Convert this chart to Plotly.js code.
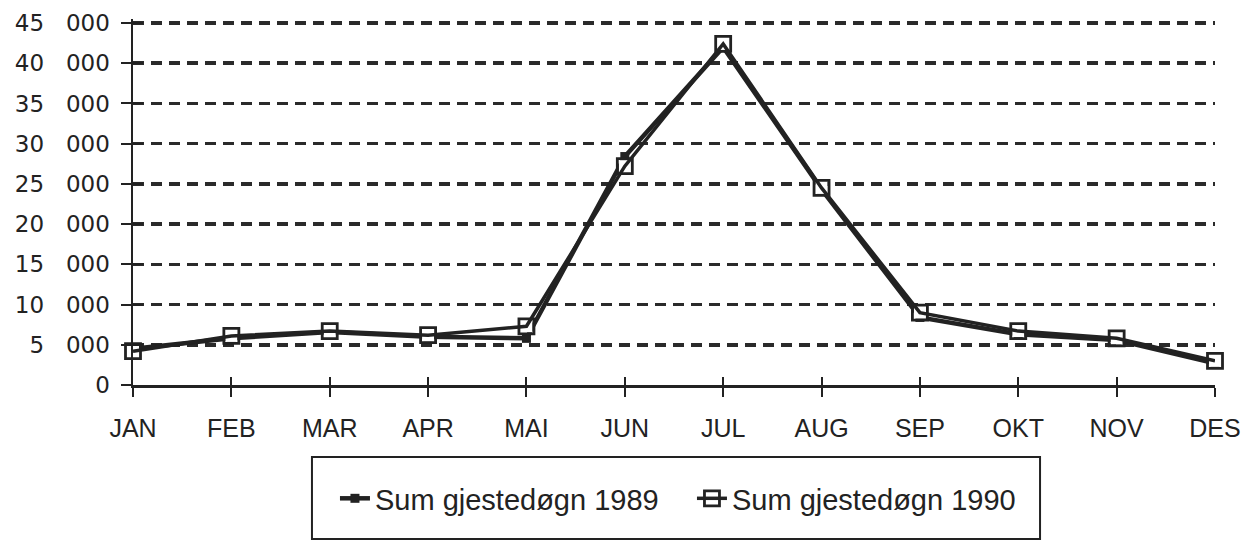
<!DOCTYPE html>
<html>
<head>
<meta charset="utf-8">
<script src="https://cdn.plot.ly/plotly-3.0.1.min.js"></script>
<style>
  html, body { margin: 0; padding: 0; background: #fff; }
  #chart { width: 1246px; height: 545px; }
</style>
</head>
<body>
<div id="chart"></div>
<script>
// ---- data ----
const months = ["JAN", "FEB", "MAR", "APR", "MAI", "JUN", "JUL", "AUG", "SEP", "OKT", "NOV", "DES"];
const gjestedogn1989 = [4500, 5800, 6600, 6000, 5800, 28400, 42000, 24300, 8400, 6300, 5600, 2700];
const gjestedogn1990 = [4200, 6100, 6700, 6200, 7300, 27200, 42400, 24500, 9000, 6700, 5800, 3000];
const yTickVals = [0, 5000, 10000, 15000, 20000, 25000, 30000, 35000, 40000, 45000];
const yTickText = ["0", "5\u00a0\u00a0\u00a0000", "10\u00a0\u00a0\u00a0000", "15\u00a0\u00a0\u00a0000", "20\u00a0\u00a0\u00a0000",
                   "25\u00a0\u00a0\u00a0000", "30\u00a0\u00a0\u00a0000", "35\u00a0\u00a0\u00a0000", "40\u00a0\u00a0\u00a0000", "45\u00a0\u00a0\u00a0000"];
const seriesNames = ["Sum gjestedøgn 1989", "Sum gjestedøgn 1990"];

const ink = "#222";

const traces = [
  {
    x: months, y: gjestedogn1989, name: seriesNames[0], type: "scatter", mode: "lines+markers",
    cliponaxis: false,
    line: { color: ink, width: 4.5 },
    marker: { symbol: "square", size: 9, color: ink, line: { color: ink, width: 0 } }
  },
  {
    // white fill behind the open squares
    x: months, y: gjestedogn1990, showlegend: false, hoverinfo: "skip", type: "scatter", mode: "markers",
    cliponaxis: false,
    marker: { symbol: "square", size: 12, color: "#fff" }
  },
  {
    x: months, y: gjestedogn1990, name: seriesNames[1], type: "scatter", mode: "lines+markers",
    cliponaxis: false,
    line: { color: ink, width: 3.5 },
    marker: { symbol: "square-open", size: 15, color: ink, line: { color: ink, width: 2.8 } }
  }
];

const yMax = 45500;

const layout = {
  width: 1246, height: 545,
  margin: { l: 133, r: 31, t: 19, b: 160 },
  paper_bgcolor: "#fff", plot_bgcolor: "#fff",
  showlegend: true,
  font: { family: "Liberation Sans, Arial, sans-serif", color: ink },
  xaxis: {
    type: "category", range: [0, 11], fixedrange: true,
    showgrid: false, zeroline: false,
    showline: true, linecolor: ink, linewidth: 2.5,
    ticks: "outside", ticklen: 9, tickwidth: 2, tickcolor: ink,
    tickfont: { family: "Liberation Sans, Arial, sans-serif", size: 25, color: ink },
    ticklabelstandoff: 10
  },
  yaxis: {
    range: [0, yMax], fixedrange: true,
    tickvals: yTickVals, ticktext: yTickText,
    showgrid: true, gridcolor: "#2a2a2a", gridwidth: 3.5, griddash: "11px,7px",
    zeroline: false,
    showline: true, linecolor: ink, linewidth: 2.5,
    ticks: "outside", ticklen: 10, tickwidth: 2, tickcolor: ink,
    tickfont: { family: "DejaVu Sans, sans-serif", size: 23, color: ink },
    ticklabelstandoff: 6
  },
  xaxis2: {
    overlaying: "x", range: [0, 11], tickvals: [0,1,2,3,4,5,6,7,8,9,10,11],
    ticks: "inside", ticklen: 8, tickwidth: 2, tickcolor: ink,
    showticklabels: false, showgrid: false, zeroline: false, showline: false, fixedrange: true
  },
  yaxis2: {
    overlaying: "y", range: [0, yMax], tickvals: yTickVals,
    ticks: "inside", ticklen: 10, tickwidth: 2, tickcolor: ink,
    showticklabels: false, showgrid: false, zeroline: false, showline: false, fixedrange: true
  },
  legend: {
    orientation: "h", x: 0.5166, xanchor: "center", y: -0.310, yanchor: "middle",
    font: { family: "Liberation Sans, Arial, sans-serif", size: 29, color: ink },
    bgcolor: "rgba(0,0,0,0)", borderwidth: 0,
    entrywidth: 312, entrywidthmode: "pixels",
    traceorder: "normal"
  },
  shapes: [
    {
      type: "rect", xref: "paper", yref: "paper",
      x0: 0.1654, x1: 0.8383, y0: -0.4205, y1: -0.1967,
      line: { color: ink, width: 2 }, fillcolor: "rgba(0,0,0,0)", layer: "below"
    }
  ]
};

// invisible trace so the secondary tick axes get drawn
traces.push({ x: [0], y: [0], xaxis: "x2", yaxis: "y2", mode: "markers", marker: { opacity: 0 }, showlegend: false, hoverinfo: "skip", type: "scatter" });

Plotly.newPlot("chart", traces, layout, { displayModeBar: false, staticPlot: true });
</script>
</body>
</html>
